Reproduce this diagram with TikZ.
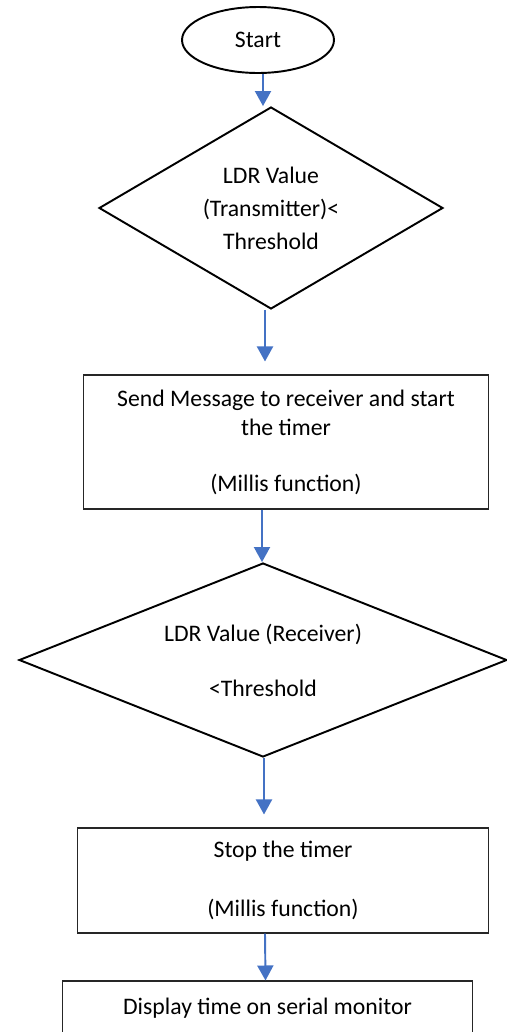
\documentclass[tikz,border=0pt]{standalone}
\usepackage{fontspec}
\setmainfont{Carlito}
\usetikzlibrary{arrows.meta,calc,shapes.geometric}
\definecolor{ink}{HTML}{000000}
\definecolor{boxline}{HTML}{262626}
\definecolor{flowblue}{HTML}{4472C4}
\tikzset{>=Latex,
  every node/.style={font=\fontsize{13.5}{16.5}\selectfont,align=center},
  terminal/.style={ellipse,draw=ink,line width=1.1pt,inner sep=0pt,
    minimum width=3.04cm,minimum height=1.32cm},
  decision/.style={diamond,draw=ink,line width=1.1pt,inner sep=0pt},
  process/.style={rectangle,draw=boxline,line width=.6pt,inner sep=0pt},
  flow/.style={-{Triangle[width=.32cm,length=.3cm]},draw=flowblue,line width=1.1pt}}

\begin{document}
\begin{tikzpicture}[x=.02cm,y=-.02cm]
\path[use as bounding box] (0,0) rectangle (507,1032);
\node[terminal] (start) at (258,40) {Start};
\node[decision,aspect=1.7,minimum width=6.88cm,minimum height=4.04cm] (txcheck) at (271,208)
  {LDR Value\\[2.3pt](Transmitter)<\\[2.3pt]Threshold};
\node[process,minimum width=8.12cm,minimum height=2.68cm] (send) at (286,442)
  {Send Message to receiver and start\\the timer\\[15.4pt](Millis function)};
\node[decision,aspect=2.5,minimum width=9.76cm,minimum height=3.88cm] (rxcheck) at (263,660)
  {LDR Value (Receiver)\\[14.8pt]<Threshold};
\node[process,minimum width=8.24cm,minimum height=2.1cm] (stop) at (283,880.5)
  {Stop the timer\\[17.5pt](Millis function)};
\node[process,minimum width=8.22cm,minimum height=1.08cm] (show) at (267.5,1008)
  {Display time on serial monitor};
\draw[flow] ($(start.south)+(5,0)$) -- ($(txcheck.north)+(-8,0)$);
\draw[flow] ($(txcheck.south)+(-6,0)$) -- ($(send.north)+(-21,-13)$);
\draw[flow] ($(send.south)+(-24,0)$) -- ($(rxcheck.north)+(-1,0)$);
\draw[flow] ($(rxcheck.south)+(1,0)$) -- ($(stop.north)+(-19,-13)$);
\draw[flow] ($(stop.south)+(-18,0)$) -- ($(show.north)+(-2,0)$);
\end{tikzpicture}
\end{document}
